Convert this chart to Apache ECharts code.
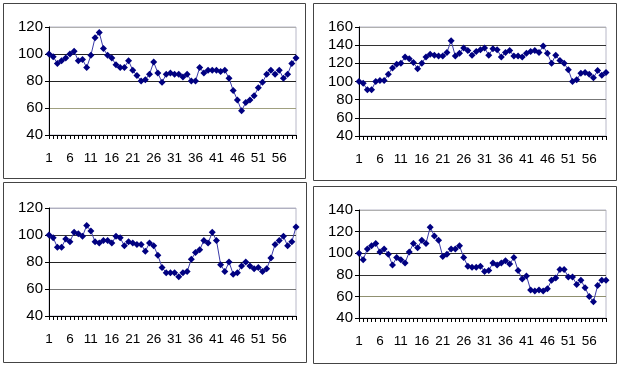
<!DOCTYPE html>
<html><head><meta charset="utf-8">
<script src="https://cdn.jsdelivr.net/npm/echarts@6/dist/echarts.min.js"></script>
<style>html,body{margin:0;padding:0;background:#fff}#c{width:623px;height:372px}</style>
</head><body><div id="c"></div>
<script>
const categories = ["1","2","3","4","5","6","7","8","9","10","11","12","13","14","15","16","17","18","19","20",
"21","22","23","24","25","26","27","28","29","30","31","32","33","34","35","36","37","38","39","40",
"41","42","43","44","45","46","47","48","49","50","51","52","53","54","55","56","57","58","59","60"];

const topLeftValues = [100,98,93,95,97,100,102,95,96,90,99,112,116,104,99,97,92,90,90,95,88,84,80,81,85,94,86,79,85,86,
85,85,83,85,80,80,90,86,88,88,88,87,88,82,73,66,58,64,66,69,75,79,85,88,85,88,82,85,93,97];
const topRightValues = [100,98,91,91,100,101,101,108,115,119,120,127,125,121,114,120,127,130,129,128,128,132,145,128,131,137,134,129,133,135,
137,129,136,135,127,132,134,128,128,127,131,133,134,132,139,131,120,129,123,120,113,100,102,109,110,108,104,112,107,110];
const bottomLeftValues = [100,98,91,91,97,95,102,101,99,107,103,95,94,96,96,94,99,98,92,95,94,93,93,88,94,92,85,76,72,72,
72,69,72,73,82,87,89,96,94,102,96,78,73,80,71,72,77,80,77,75,76,73,75,83,93,96,99,92,95,106];
const bottomRightValues = [100,94,104,107,109,101,104,99,89,96,94,91,101,109,105,112,109,124,116,112,97,99,104,104,107,96,88,87,87,88,
83,84,91,89,91,93,90,96,84,76,79,66,65,66,65,67,75,77,85,85,78,78,71,75,68,60,55,70,75,75];

const yMins = [40,40,40,40];
const yMaxs = [120,160,120,140];
const yInterval = 20;

const allValues = [topLeftValues, topRightValues, bottomLeftValues, bottomRightValues];

const grids = [
  {left:49, top:27, width:247, height:108},
  {left:359, top:27, width:247, height:109},
  {left:49, top:208, width:247, height:108},
  {left:359, top:210, width:247, height:108}
];
const gridColors = [
  ['#000','#a0a080','#222','#222','#b0b0b0'],
  ['#000','#333','#777','#444','#222','#333','#b0b0b0'],
  ['#000','#777','#222','#333','#b0b0c0'],
  ['#000','#909070','#333','#222','#555','#b0b0b0']
];
const font = '"Liberation Sans", Arial, sans-serif';

const chart = echarts.init(document.getElementById('c'), null, {renderer:'canvas'});
const option = {
  backgroundColor:'#fff',
  animation:false,
  grid: grids.map(g => Object.assign({show:true, borderColor:'#b8b8c8', borderWidth:1, backgroundColor:'#fff'}, g)),
  xAxis: grids.map((g,i) => ({
    type:'category', gridIndex:i, data:categories, boundaryGap:false,
    axisLine:{show:true, lineStyle:{color:'#000', width:1}},
    axisTick:{show:true, interval:0, length:4, lineStyle:{color:'#000'}},
    axisLabel:{interval:4, margin:16, fontSize:13.5, color:'#000', fontFamily:font, hideOverlap:false},
    splitLine:{show:false}
  })),
  yAxis: grids.map((g,i) => ({
    type:'value', gridIndex:i, min:yMins[i], max:yMaxs[i], interval:yInterval,
    axisLine:{show:true, lineStyle:{color:'#000', width:1}},
    axisTick:{show:true, length:4, lineStyle:{color:'#000'}},
    axisLabel:{fontSize:15, color:'#000', fontFamily:font, margin:6},
    splitLine:{show:true, lineStyle:{color:gridColors[i], width:1}}
  })),
  series: allValues.map((vals,i) => ({
    type:'line', xAxisIndex:i, yAxisIndex:i, data:vals,
    symbol:'diamond', symbolSize:7, showAllSymbol:true,
    lineStyle:{color:'#3a3aa8', width:1},
    itemStyle:{color:'#000080'},
    emphasis:{disabled:true}
  })),
  graphic: [
    {type:'rect', shape:{x:3.5, y:3.5, width:302, height:175}, style:{fill:'none', stroke:'#444', lineWidth:1}},
    {type:'rect', shape:{x:313.5, y:3.5, width:303, height:177}, style:{fill:'none', stroke:'#444', lineWidth:1}},
    {type:'rect', shape:{x:3.5, y:182.5, width:303, height:180}, style:{fill:'none', stroke:'#444', lineWidth:1}},
    {type:'rect', shape:{x:313.5, y:186.5, width:303, height:177}, style:{fill:'none', stroke:'#444', lineWidth:1}}
  ]
};
chart.setOption(option);
</script>
</body></html>
